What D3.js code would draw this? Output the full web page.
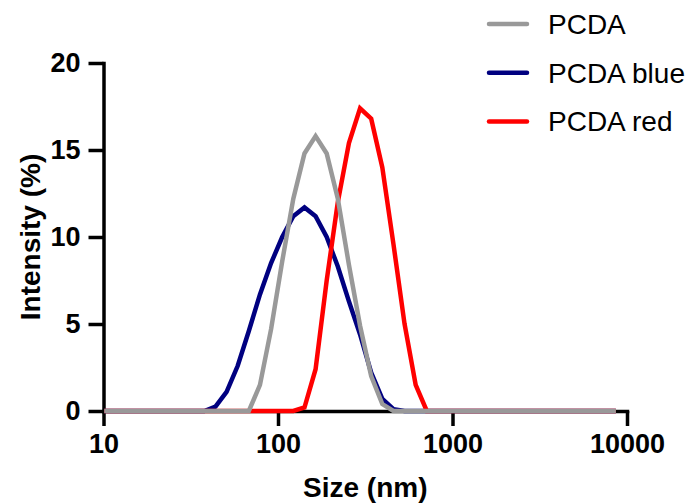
<!DOCTYPE html>
<html>
<head>
<meta charset="utf-8">
<script src="https://cdn.jsdelivr.net/npm/d3@7"></script>
<style>
  body { margin: 0; background: #fff; }
  text { font-family: "Liberation Sans", Arial, sans-serif; }
</style>
</head>
<body>
<div id="my_dataviz"></div>
<script>
// size bins (nm)
var sizes = [10.1, 11.7, 13.54, 15.69, 18.17, 21.04, 24.36, 28.21, 32.67, 37.84, 43.82, 50.75, 58.77, 68.06, 78.82, 91.28,
  105.7, 122.4, 141.8, 164.2, 190.1, 220.2, 255.0, 295.3, 342.0, 396.1, 458.7, 531.2, 615.1, 712.4, 825.0, 955.4,
  1106, 1281, 1484, 1718, 1990, 2305, 2669, 3091, 3580, 4145, 4801, 5560, 6439, 7456, 8635]

// intensity (%)
var pcda = [0, 0, 0, 0, 0, 0, 0, 0, 0, 0, 0, 0, 0, 0, 1.5, 4.7,
  8.6, 12.2, 14.8, 15.8, 14.8, 12.2, 8.4, 4.9, 2.0, 0.4, 0, 0, 0, 0, 0, 0,
  0, 0, 0, 0, 0, 0, 0, 0, 0, 0, 0, 0, 0, 0, 0]
var pcdaBlue = [0, 0, 0, 0, 0, 0, 0, 0, 0, 0, 0.25, 1.1, 2.6, 4.6, 6.7, 8.5,
  10.0, 11.2, 11.7, 11.2, 10.0, 8.3, 6.3, 4.4, 2.2, 0.7, 0.1, 0, 0, 0, 0, 0,
  0, 0, 0, 0, 0, 0, 0, 0, 0, 0, 0, 0, 0, 0, 0]
var pcdaRed = [0, 0, 0, 0, 0, 0, 0, 0, 0, 0, 0, 0, 0, 0, 0, 0,
  0, 0, 0.2, 2.4, 7.5, 12.0, 15.4, 17.4, 16.8, 14.0, 9.6, 5.0, 1.5, 0, 0, 0,
  0, 0, 0, 0, 0, 0, 0, 0, 0, 0, 0, 0, 0, 0, 0]

var seriesNames = ["PCDA", "PCDA blue", "PCDA red"]
var seriesColors = ["#999999", "#000080", "#ff0000"]
var xTicks = [10, 100, 1000, 10000]
var yTicks = [0, 5, 10, 15, 20]

var width = 690, height = 504

var svg = d3.select("#my_dataviz")
  .append("svg")
    .attr("width", width)
    .attr("height", height)

var x = d3.scaleLog()
  .domain([10, 10000])
  .range([103.5, 627])

var y = d3.scaleLinear()
  .domain([0, 20])
  .range([411, 63])

// X axis
var xAxis = svg.append("g")
  .attr("transform", "translate(0," + y(0) + ")")
  .call(d3.axisBottom(x).tickValues(xTicks).tickFormat(d3.format("d")).tickSize(15).tickSizeOuter(0).tickPadding(8))
xAxis.select(".domain").attr("stroke-width", 3.5).attr("stroke-linecap", "square")
xAxis.selectAll(".tick line").attr("stroke-width", 3.5)
xAxis.selectAll("text")
  .style("font-size", "27px")
  .style("font-weight", "bold")
  .attr("fill", "#000")

// Y axis
var yAxis = svg.append("g")
  .attr("transform", "translate(" + x(10) + ",0)")
  .call(d3.axisLeft(y).tickValues(yTicks).tickSize(15).tickSizeOuter(0).tickPadding(8))
yAxis.select(".domain").attr("stroke-width", 3.5).attr("stroke-linecap", "square")
yAxis.selectAll(".tick line").attr("stroke-width", 3.5)
yAxis.selectAll("text")
  .style("font-size", "27px")
  .style("font-weight", "bold")
  .attr("fill", "#000")

// axis titles
svg.append("text")
  .attr("x", (x(10) + x(10000)) / 2)
  .attr("y", 497)
  .attr("text-anchor", "middle")
  .style("font-size", "28px")
  .style("font-weight", "bold")
  .text("Size (nm)")

svg.append("text")
  .attr("transform", "translate(40," + (y(0) + y(20)) / 2 + ")rotate(-90)")
  .attr("text-anchor", "middle")
  .style("font-size", "28px")
  .style("font-weight", "bold")
  .text("Intensity (%)")

// lines (blue, red below, grey on top)
var line = d3.line()
  .x(function(d) { return x(d.size) })
  .y(function(d) { return y(d.value) })

var allSeries = [pcda, pcdaBlue, pcdaRed]
var drawOrder = [1, 2, 0]
drawOrder.forEach(function(i) {
  var pts = sizes.map(function(s, j) { return {size: s, value: allSeries[i][j]} })
  svg.append("path")
    .datum(pts)
    .attr("d", line)
    .attr("fill", "none")
    .attr("stroke", seriesColors[i])
    .attr("stroke-width", 4.5)
    .attr("stroke-linejoin", "miter")
})

// legend
var legend = svg.selectAll("legendItems")
  .data(seriesNames)
  .enter()
  .append("g")
    .attr("transform", function(d, i) { return "translate(0," + (24 + i * 48.7) + ")" })

legend.append("line")
  .attr("x1", 489)
  .attr("x2", 527)
  .attr("stroke", function(d, i) { return seriesColors[i] })
  .attr("stroke-width", 4.5)
  .attr("stroke-linecap", "round")

legend.append("text")
  .attr("x", 548)
  .attr("y", 10)
  .style("font-size", "28px")
  .text(function(d) { return d })
</script>
</body>
</html>
